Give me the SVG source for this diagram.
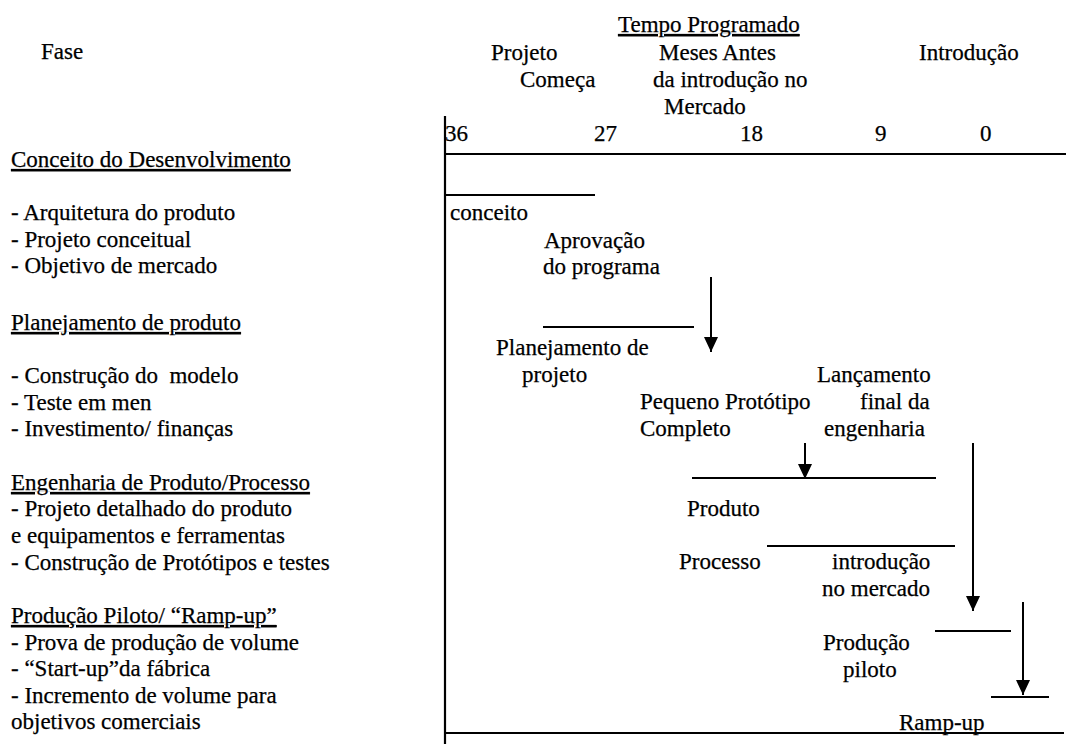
<svg xmlns="http://www.w3.org/2000/svg" width="1066" height="744" viewBox="0 0 1066 744">
  <defs>
    <style>
      .t text { font-family: 'Liberation Serif', 'Times New Roman', Tinos, 'DejaVu Serif', serif; font-size: 23px; fill: #000; stroke: #000; stroke-width: 0.25; white-space: pre; }
      .u { text-decoration: underline; }
      .ln { stroke: #000; stroke-width: 2; fill: none; }
      .ax { stroke: #000; stroke-width: 2.2; fill: none; }
    </style>
    <!-- filled arrowhead, drawn along +x so orient="auto" turns it down the line -->
    <marker id="head" viewBox="0 0 15 14" refX="15" refY="7" markerWidth="15" markerHeight="14" markerUnits="userSpaceOnUse" orient="auto">
      <path d="M0,0 L15,7 L0,14 Z" fill="#000"/>
    </marker>
  </defs>
  <rect width="1066" height="744" fill="#fff"/>

  <g class="t" font-family="'Liberation Serif', 'Times New Roman', serif" font-size="23">
  <!-- phase list -->
  <g id="phases">
    <text x="41" y="59">Fase</text>
    <text x="11" y="167" class="u">Conceito do Desenvolvimento</text>
    <text x="11" y="220">- Arquitetura do produto</text>
    <text x="11" y="247">- Projeto conceitual</text>
    <text x="11" y="273">- Objetivo de mercado</text>
    <text x="11" y="330" class="u">Planejamento de produto</text>
    <text x="11" y="383">- Construção do  modelo</text>
    <text x="11" y="410">- Teste em men</text>
    <text x="11" y="436">- Investimento/ finanças</text>
    <text x="11" y="490" class="u">Engenharia de Produto/Processo</text>
    <text x="11" y="516">- Projeto detalhado do produto</text>
    <text x="11" y="543">e equipamentos e ferramentas</text>
    <text x="11" y="570">- Construção de Protótipos e testes</text>
    <text x="11" y="623" class="u">Produção Piloto/ “Ramp-up”</text>
    <text x="11" y="650">- Prova de produção de volume</text>
    <text x="11" y="676">- “Start-up”da fábrica</text>
    <text x="11" y="703">- Incremento de volume para</text>
    <text x="11" y="729">objetivos comerciais</text>
  </g>

  <!-- time scale header -->
  <g id="header">
    <text x="618" y="32" class="u">Tempo Programado</text>
    <text x="491" y="60">Projeto</text>
    <text x="520" y="87">Começa</text>
    <text x="659" y="60">Meses Antes</text>
    <text x="653" y="87">da introdução no</text>
    <text x="664" y="114">Mercado</text>
    <text x="919" y="60">Introdução</text>
    <text x="445" y="141">36</text>
    <text x="594" y="141">27</text>
    <text x="740" y="141">18</text>
    <text x="875" y="141">9</text>
    <text x="980" y="141">0</text>
  </g>

  <!-- activity labels -->
  <g id="concept"><text x="450" y="220">conceito</text></g>
  <g id="approval">
    <text x="544" y="248">Aprovação</text>
    <text x="543" y="274">do programa</text>
  </g>
  <g id="project-planning">
    <text x="496" y="355">Planejamento de</text>
    <text x="522" y="382">projeto</text>
  </g>
  <g id="prototype">
    <text x="640" y="409">Pequeno Protótipo</text>
    <text x="640" y="436">Completo</text>
  </g>
  <g id="release">
    <text x="817" y="382">Lançamento</text>
    <text x="860" y="409">final da</text>
    <text x="824" y="436">engenharia</text>
  </g>
  <g id="product"><text x="687" y="516">Produto</text></g>
  <g id="process"><text x="679" y="569">Processo</text></g>
  <g id="market-intro">
    <text x="832" y="569">introdução</text>
    <text x="822" y="596">no mercado</text>
  </g>
  <g id="pilot">
    <text x="823" y="650">Produção</text>
    <text x="843" y="677">piloto</text>
  </g>
  <g id="ramp-up"><text x="899" y="730">Ramp-up</text></g>
  </g>

  <!-- axes -->
  <g id="axes">
    <line class="ax" x1="445" y1="116" x2="445" y2="744"/>
    <line class="ax" x1="445" y1="154" x2="1066" y2="154"/>
    <line class="ax" x1="445" y1="733" x2="1064" y2="733"/>
  </g>

  <!-- bars and milestone arrows -->
  <g id="connectors">
    <line class="ln" x1="445" y1="195" x2="595" y2="195"/>
    <line class="ln" x1="543" y1="327" x2="694" y2="327"/>
    <line class="ln" x1="692" y1="478" x2="936" y2="478"/>
    <line class="ln" x1="767" y1="546" x2="955" y2="546"/>
    <line class="ln" x1="935" y1="631" x2="1011" y2="631"/>
    <line class="ln" x1="991" y1="697" x2="1049" y2="697"/>
    <line class="ln" x1="711" y1="277" x2="711" y2="352" marker-end="url(#head)"/>
    <line class="ln" x1="805" y1="443" x2="805" y2="479" marker-end="url(#head)"/>
    <line class="ln" x1="973" y1="443" x2="973" y2="611" marker-end="url(#head)"/>
    <line class="ln" x1="1023" y1="602" x2="1023" y2="695" marker-end="url(#head)"/>
  </g>
</svg>
